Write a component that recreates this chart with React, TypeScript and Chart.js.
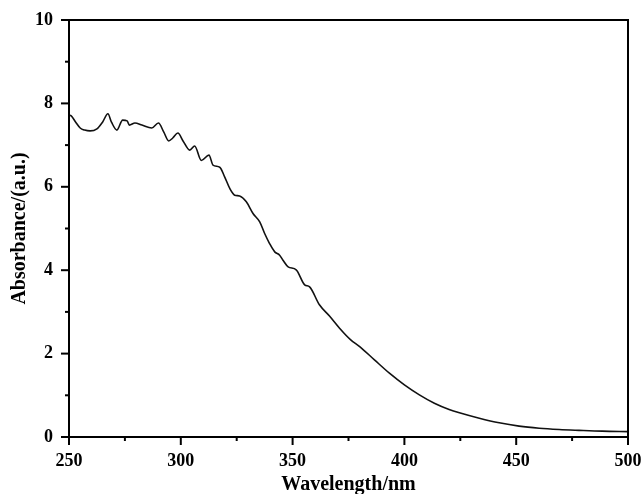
import { useEffect, useRef } from 'react';
import { Chart, registerables } from 'chart.js';

Chart.register(...registerables);

const wavelengths = [
  250, 251, 253, 255, 257, 259.4, 262.5, 265, 267.4, 269, 271.4, 274, 276, 277, 279.5, 282.6,
  287, 290, 292.4, 294.6, 296.4, 298.7, 301, 304, 306.2, 309.2, 312.6, 314.4, 317.4, 319.6,
  321.9, 324.1, 326.3, 329.3, 332.3, 335.3, 337.5, 339.7, 342, 344.2, 345.7, 348, 351.6,
  355.4, 357.6, 362, 366.5, 371, 376, 380, 386.6, 393.3, 400, 406.7, 413.4, 420,
  424.6, 433.5, 442.4, 451.3, 460.3, 469.2, 478.1, 488.5, 500,
];
const absorbance = [
  7.72, 7.7, 7.55, 7.41, 7.36, 7.34, 7.39, 7.55, 7.75, 7.55, 7.36, 7.6, 7.58, 7.48, 7.53, 7.48,
  7.41, 7.53, 7.31, 7.1, 7.17, 7.29, 7.1, 6.88, 6.98, 6.63, 6.76, 6.52, 6.47, 6.24,
  5.96, 5.8, 5.78, 5.64, 5.36, 5.16, 4.88, 4.64, 4.44, 4.36, 4.24, 4.08, 4.01,
  3.65, 3.6, 3.17, 2.9, 2.61, 2.33, 2.17, 1.85, 1.53, 1.25, 1.01, 0.81, 0.66,
  0.58, 0.45, 0.34, 0.26, 0.21, 0.18, 0.16, 0.14, 0.13,
];
const xMajorTicks = [250, 300, 350, 400, 450, 500];
const xMinorTicks = [275, 325, 375, 425, 475];
const yMajorTicks = [0, 2, 4, 6, 8, 10];
const yMinorTicks = [1, 3, 5, 7, 9];

const FONT = "'Liberation Serif', 'Times New Roman', serif";

const framePlugin = {
  id: 'frame',
  afterDatasetsDraw(chart: any) {
    const { ctx, chartArea: a, scales } = chart;
    const x = scales.x;
    const y = scales.y;
    ctx.save();
    ctx.strokeStyle = '#000';
    ctx.lineWidth = 2;
    ctx.strokeRect(a.left, a.top, a.right - a.left, a.bottom - a.top);
    const seg = (x1: number, y1: number, x2: number, y2: number) => {
      ctx.beginPath();
      ctx.moveTo(x1, y1);
      ctx.lineTo(x2, y2);
      ctx.stroke();
    };
    xMajorTicks.forEach((v) => {
      const px = x.getPixelForValue(v);
      seg(px, a.bottom, px, a.bottom + 8);
    });
    xMinorTicks.forEach((v) => {
      const px = x.getPixelForValue(v);
      seg(px, a.bottom, px, a.bottom + 4);
    });
    yMajorTicks.forEach((v) => {
      const py = y.getPixelForValue(v);
      seg(a.left, py, a.left - 8, py);
    });
    yMinorTicks.forEach((v) => {
      const py = y.getPixelForValue(v);
      seg(a.left, py, a.left - 4, py);
    });
    ctx.restore();
  },
};

export default function App() {
  const ref = useRef<HTMLCanvasElement | null>(null);
  useEffect(() => {
    document.body.style.margin = '0';
    const canvas = ref.current;
    if (!canvas) return;
    const chart = new Chart(canvas, {
      type: 'line',
      data: {
        datasets: [
          {
            data: wavelengths.map((w, i) => ({ x: w, y: absorbance[i] })),
            borderColor: '#111',
            borderWidth: 1.6,
            pointRadius: 0,
            fill: false,
            cubicInterpolationMode: 'monotone',
          },
        ],
      },
      options: {
        animation: false,
        responsive: false,
        maintainAspectRatio: false,
        layout: { padding: { left: 6, top: 20, right: 15, bottom: 0 } },
        plugins: { legend: { display: false }, tooltip: { enabled: false } },
        scales: {
          x: {
            type: 'linear',
            min: 250,
            max: 500,
            afterFit: (s: any) => {
              s.height = 57;
              s.paddingLeft = 0;
              s.paddingRight = 0;
            },
            afterBuildTicks: (s: any) => {
              s.ticks = xMajorTicks.map((v) => ({ value: v }));
            },
            grid: { display: false, drawTicks: false },
            border: { display: false },
            ticks: {
              padding: 14,
              color: '#000',
              maxRotation: 0,
              font: { family: FONT, size: 18, weight: 'bold' },
            },
            title: {
              display: true,
              text: 'Wavelength/nm',
              color: '#000',
              padding: { top: 0, bottom: 0 },
              font: { family: FONT, size: 20, weight: 'bold', lineHeight: 0.95 },
            },
          },
          y: {
            type: 'linear',
            min: 0,
            max: 10,
            afterFit: (s: any) => {
              s.width = 63;
              s.paddingTop = 0;
              s.paddingBottom = 0;
            },
            afterBuildTicks: (s: any) => {
              s.ticks = yMajorTicks.map((v) => ({ value: v }));
            },
            grid: { display: false, drawTicks: false },
            border: { display: false },
            ticks: {
              padding: 16,
              color: '#000',
              font: { family: FONT, size: 18, weight: 'bold' },
            },
            title: {
              display: true,
              text: 'Absorbance/(a.u.)',
              color: '#000',
              padding: { top: 2, bottom: 0 },
              font: { family: FONT, size: 20, weight: 'bold' },
            },
          },
        },
      },
      plugins: [framePlugin],
    } as any);
    return () => chart.destroy();
  }, []);
  return (
    <div style={{ position: 'relative', width: 643, height: 494 }}>
      <canvas ref={ref} width={643} height={494} style={{ display: 'block', width: 643, height: 494 }} />
    </div>
  );
}
